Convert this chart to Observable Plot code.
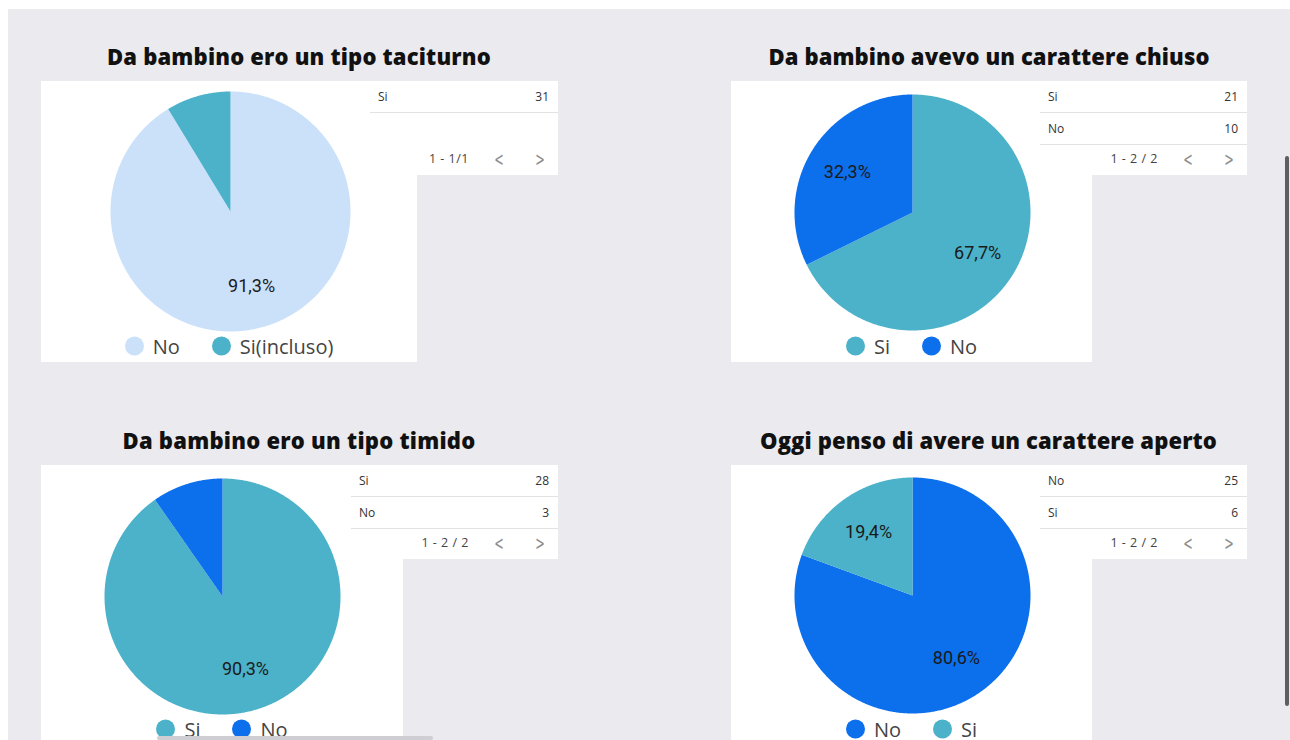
<!DOCTYPE html>
<html>
<head>
<meta charset="utf-8">
<script src="https://cdn.jsdelivr.net/npm/d3@7"></script>
<script src="https://cdn.jsdelivr.net/npm/@observablehq/plot@0.6"></script>
<style>
  html, body { margin: 0; padding: 0; background: #ffffff; }
  body { width: 1290px; height: 740px; overflow: hidden; position: relative; font-family: "Open Sans", sans-serif; }
  #bg { position: absolute; left: 8px; top: 9px; right: 0; bottom: 0; background: #EBEAEF; }
  .abs { position: absolute; }
  .title { position: absolute; font-family: "Open Sans", sans-serif; font-weight: 800; font-size: 22px; color: #111; white-space: nowrap; transform: translate(-50%, -50%); }
  .box { position: absolute; background: #ffffff; }
  .legend { position: absolute; display: flex; align-items: center; justify-content: center; font-size: 20px; color: #444; transform: translateY(-50%); }
  .legend .item { display: flex; align-items: center; margin: 0 16px; }
  .legend .sw { width: 19px; height: 19px; border-radius: 50%; margin-right: 9px; }
  .table { position: absolute; background: #ffffff; height: 94px; font-size: 12px; color: #333; }
  .row { position: absolute; left: 0; right: 0; height: 31px; border-bottom: 1px solid #e2e2e2; }
  .row .k { position: absolute; left: 8px; top: 7px; }
  .row .v { position: absolute; right: 9px; top: 7px; }
  .pager { position: absolute; top: 69px; font-size: 12.5px; color: #444; letter-spacing: 0.5px; white-space: nowrap; }
  .chev { position: absolute; top: 67px; font-family: "DejaVu Sans", sans-serif; font-size: 19px; line-height: 22px; color: #8c8c8c; font-weight: 400; transform: translateX(-50%) scaleX(0.6); }
  .plotwrap { position: absolute; }
</style>
</head>
<body>
<div id="bg"></div>
<script>
// ---------------- DATA ----------------
const titles = [
  "Da bambino ero un tipo taciturno",
  "Da bambino avevo un carattere chiuso",
  "Da bambino ero un tipo timido",
  "Oggi penso di avere un carattere aperto"
];
// pie slices (percent), in drawing order (clockwise from 12 o'clock)
const pie1Labels = ["No", "Si(incluso)"];
const pie1Values = [91.3, 8.7];
const pie2Labels = ["Si", "No"];
const pie2Values = [67.7, 32.3];
const pie3Labels = ["Si", "No"];
const pie3Values = [90.3, 9.7];
const pie4Labels = ["No", "Si"];
const pie4Values = [80.6, 19.4];
// side tables
const table1Labels = ["Si"];
const table1Counts = [31];
const table2Labels = ["Si", "No"];
const table2Counts = [21, 10];
const table3Labels = ["Si", "No"];
const table3Counts = [28, 3];
const table4Labels = ["No", "Si"];
const table4Counts = [25, 6];
const pagers = ["1 - 1/1", "1 - 2 / 2", "1 - 2 / 2", "1 - 2 / 2"];

// ---------------- STYLE / LAYOUT ----------------
const colorOf = { "No": "#0C6FEB", "Si": "#4BB2C9", "Si(incluso)": "#4BB2C9" };
const pie1Colors = ["#CBE1FA", "#4BB2C9"];
const layout = [
  { titleX: 299,   titleY: 56,  titleW: 384, boxL: 41,  boxT: 81,  boxW: 376, boxH: 281, cx: 229.5, cy: 210.5, r: 120, tabL: 370,  tabW: 188, legY: 346 },
  { titleX: 989,   titleY: 56,  titleW: 441, boxL: 731, boxT: 81,  boxW: 361, boxH: 281, cx: 911.5, cy: 212,   r: 118, tabL: 1040, tabW: 207, legY: 346 },
  { titleX: 299,   titleY: 440, titleW: 353, boxL: 41,  boxT: 465, boxW: 362, boxH: 300, cx: 222,   cy: 595.5, r: 118, tabL: 351,  tabW: 207, legY: 729 },
  { titleX: 988.5, titleY: 440, titleW: 457, boxL: 731, boxT: 465, boxW: 361, boxH: 300, cx: 911.5, cy: 595,   r: 118, tabL: 1040, tabW: 207, legY: 729 }
];

const pies = [
  { labels: pie1Labels, values: pie1Values, colors: pie1Colors },
  { labels: pie2Labels, values: pie2Values, colors: pie2Labels.map(l => colorOf[l]) },
  { labels: pie3Labels, values: pie3Values, colors: pie3Labels.map(l => colorOf[l]) },
  { labels: pie4Labels, values: pie4Values, colors: pie4Labels.map(l => colorOf[l]) }
];
const tables = [
  { labels: table1Labels, counts: table1Counts },
  { labels: table2Labels, counts: table2Counts },
  { labels: table3Labels, counts: table3Counts },
  { labels: table4Labels, counts: table4Counts }
];

const fmtPct = v => v.toFixed(1).replace(".", ",") + "%";
const body = document.body;
const canvas = document.createElement("canvas");
const ctx = canvas.getContext("2d");

function el(tag, cls, style, text) {
  const e = document.createElement(tag);
  if (cls) e.className = cls;
  if (style) Object.assign(e.style, style);
  if (text != null) e.textContent = text;
  return e;
}

pies.forEach((pie, i) => {
  const L = layout[i];

  // white box behind pie
  body.appendChild(el("div", "box", { left: L.boxL + "px", top: L.boxT + "px", width: L.boxW + "px", height: L.boxH + "px" }));

  // table
  const tab = el("div", "table", { left: L.tabL + "px", top: L.boxT + "px", width: L.tabW + "px" });
  tables[i].labels.forEach((lab, j) => {
    const row = el("div", "row", { top: (j * 32) + "px" });
    row.appendChild(el("span", "k", null, lab));
    row.appendChild(el("span", "v", null, String(tables[i].counts[j])));
    tab.appendChild(row);
  });
  tab.appendChild(el("span", "pager", { right: "89px" }, pagers[i]));
  tab.appendChild(el("span", "chev", { left: (L.tabW - 59) + "px" }, "<"));
  tab.appendChild(el("span", "chev", { left: (L.tabW - 18) + "px" }, ">"));
  body.appendChild(tab);

  // title (fit width)
  const t = el("div", "title", { left: L.titleX + "px", top: L.titleY + "px" }, titles[i]);
  ctx.font = "800 22px 'Open Sans'";
  const w = ctx.measureText(titles[i]).width;
  t.style.letterSpacing = ((L.titleW - w) / titles[i].length) + "px";
  body.appendChild(t);

  // pie via Plot
  const arcs = d3.pie().sort(null).startAngle(0).endAngle(2 * Math.PI)(pie.values);
  const poly = [];
  const labelsData = [];
  arcs.forEach((a, k) => {
    const lab = pie.labels[k];
    poly.push({ label: lab, x: 0, y: 0 });
    const n = Math.max(2, Math.ceil((a.endAngle - a.startAngle) / (Math.PI / 360)));
    for (let s = 0; s <= n; s++) {
      const ang = a.startAngle + (a.endAngle - a.startAngle) * s / n;
      poly.push({ label: lab, x: Math.sin(ang), y: Math.cos(ang) });
    }
    poly.push({ label: lab, x: 0, y: 0 });
    if (pie.values[k] >= 10) {
      const mid = (a.startAngle + a.endAngle) / 2;
      labelsData.push({ x: 0.65 * Math.sin(mid), y: 0.65 * Math.cos(mid), text: fmtPct(pie.values[k]) });
    }
  });
  const m = 4;
  const size = 2 * L.r + 2 * m;
  const chart = Plot.plot({
    width: size,
    height: size,
    margin: m,
    style: { background: "transparent", overflow: "visible" },
    x: { domain: [-1, 1], axis: null },
    y: { domain: [-1, 1], axis: null },
    color: { domain: pie.labels, range: pie.colors },
    marks: [
      Plot.line(poly, { x: "x", y: "y", z: "label", fill: "label", stroke: "none", curve: "linear" }),
      Plot.text(labelsData, { x: "x", y: "y", text: "text", fontSize: 18, fontFamily: "Roboto", fill: "#1a1a1a" })
    ]
  });
  const wrap = el("div", "plotwrap", { left: (L.cx - size / 2) + "px", top: (L.cy - size / 2) + "px" });
  wrap.appendChild(chart);
  body.appendChild(wrap);

  // legend
  const leg = el("div", "legend", { left: L.boxL + "px", width: L.boxW + "px", top: L.legY + "px" });
  pie.labels.forEach((lab, k) => {
    const it = el("div", "item");
    it.appendChild(el("span", "sw", { background: pie.colors[k] }));
    it.appendChild(el("span", null, null, lab));
    leg.appendChild(it);
  });
  body.appendChild(leg);
});

// scrollbars
body.appendChild(el("div", "abs", { left: "1285px", top: "156px", width: "4px", height: "550px", background: "#5e5e5e", borderRadius: "2px" }));
body.appendChild(el("div", "abs", { left: "157px", top: "736px", width: "276px", height: "4px", background: "#cfcfd3", borderRadius: "2px" }));
</script>
</body>
</html>
